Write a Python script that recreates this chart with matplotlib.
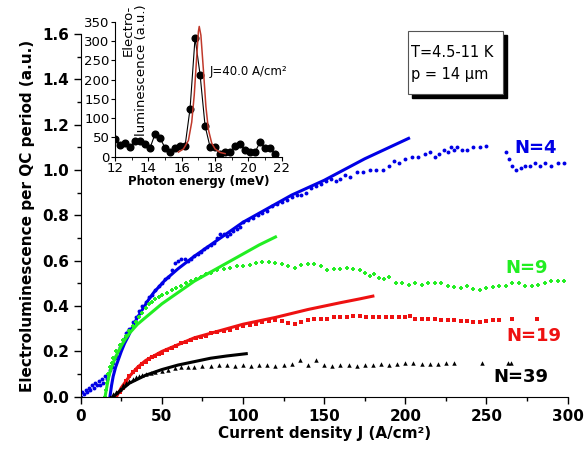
import matplotlib
matplotlib.use("Agg")
import matplotlib.pyplot as plt
from matplotlib.patches import Rectangle
from matplotlib.ticker import MultipleLocator, FormatStrFormatter

plt.rcParams['font.family'] = ['DejaVu Sans']

# ---- main panel data: current density J (A/cm2) vs EL per period ----
n4_j = [0, 1, 2, 3, 4, 5, 6, 7, 8, 9, 10, 11, 12, 13, 14, 15, 16,
        17, 18, 19, 20, 21, 22, 23, 24, 25, 26, 27, 28, 29, 30, 32, 34, 36, 38, 40,
        42, 44, 46, 48, 50, 52, 54, 56, 58, 60, 62, 64, 66, 68, 70, 72, 74, 76, 78,
        80, 82, 84, 86, 88, 90, 92, 94, 96, 98, 100, 103, 106, 109, 112, 115, 118,
        121, 124, 127, 130, 133, 136, 139, 142, 145, 148, 151, 154, 157, 160, 163,
        166, 170, 174, 178, 182, 186, 190, 193, 196, 200, 204, 208, 212, 215, 218,
        221, 224, 226, 228, 230, 232, 235, 238, 242, 246, 250, 262, 264, 266, 268,
        271, 274, 277, 280, 283, 286, 290, 294, 298]
n4_el = [0.0, 0.02, 0.01, 0.03, 0.02, 0.04, 0.03, 0.05, 0.04, 0.06, 0.05, 0.07, 0.05, 0.08, 0.06, 0.09, 0.08,
         0.1, 0.12, 0.13, 0.15, 0.17, 0.18, 0.2, 0.22, 0.23, 0.25, 0.26, 0.28, 0.29, 0.3, 0.33, 0.35, 0.38, 0.4, 0.42,
         0.44, 0.45, 0.47, 0.49, 0.5, 0.52, 0.53, 0.56, 0.59, 0.6, 0.61, 0.61, 0.6, 0.61, 0.62, 0.63, 0.64, 0.65, 0.66,
         0.67, 0.68, 0.7, 0.72, 0.72, 0.71, 0.72, 0.73, 0.74, 0.75, 0.77, 0.78, 0.79, 0.8, 0.81, 0.82, 0.84,
         0.85, 0.86, 0.87, 0.88, 0.89, 0.89, 0.9, 0.92, 0.93, 0.94, 0.95, 0.96, 0.95, 0.96, 0.98,
         0.97, 0.99, 0.99, 1.0, 1.0, 1.0, 1.02, 1.04, 1.03, 1.05, 1.06, 1.06, 1.07, 1.08, 1.06,
         1.07, 1.09, 1.08, 1.1, 1.09, 1.1, 1.09, 1.09, 1.1, 1.1, 1.105, 1.08, 1.05, 1.02, 1.0,
         1.01, 1.02, 1.02, 1.03, 1.02, 1.03, 1.02, 1.03, 1.03]
n4_fit_j = [18, 19, 20, 21.5, 23, 25, 27, 29.5, 32, 35, 38, 41.5, 45, 52, 60, 70, 80, 90, 100,
            115, 130, 150, 175, 202]
n4_fit = [0.0, 0.05, 0.09, 0.13, 0.16, 0.2, 0.235, 0.27, 0.31, 0.35, 0.385, 0.425, 0.46, 0.515,
          0.565, 0.62, 0.67, 0.72, 0.77, 0.83, 0.89, 0.955, 1.05, 1.14]

n9_j = [15, 15.5, 16, 17, 18, 19, 20, 22, 24, 26, 28, 30, 32, 34, 36, 38, 40, 42, 44, 46,
        48, 50, 53, 56, 59, 62, 65, 68, 71, 74, 77, 80, 84, 88, 92, 96, 100, 104, 108,
        112, 116, 120, 124, 128, 132, 136, 140, 144, 148, 152, 156, 160, 164, 168, 172,
        175, 178, 181, 184, 187, 190, 194, 198, 202, 206, 210, 214, 218, 222, 226, 230,
        234, 238, 242, 246, 250, 254, 258, 262, 266, 270, 274, 278, 282, 286, 290, 294, 298]
n9_el = [0.0, 0.03, 0.06, 0.1, 0.13, 0.15, 0.17, 0.2, 0.23, 0.25, 0.27, 0.29, 0.31, 0.33, 0.35, 0.37, 0.39, 0.41, 0.42, 0.43,
         0.44, 0.45, 0.46, 0.47, 0.48, 0.49, 0.5, 0.51, 0.52, 0.53, 0.54, 0.545, 0.56, 0.565, 0.57, 0.575, 0.575, 0.58, 0.59,
         0.595, 0.595, 0.59, 0.585, 0.575, 0.57, 0.58, 0.585, 0.585, 0.575, 0.56, 0.565, 0.565, 0.57, 0.565, 0.56,
         0.545, 0.535, 0.54, 0.525, 0.52, 0.53, 0.5, 0.5, 0.495, 0.5, 0.495, 0.5, 0.5, 0.5, 0.49, 0.485,
         0.48, 0.49, 0.475, 0.47, 0.48, 0.485, 0.49, 0.49, 0.5, 0.5, 0.49, 0.49, 0.495, 0.5, 0.51, 0.51, 0.51]
n9_fit_j = [15, 16, 17, 18.5, 20, 22.5, 25, 27.5, 30, 35, 40, 50, 60, 70, 80, 90, 100, 110, 120]
n9_fit = [0.0, 0.04, 0.08, 0.12, 0.15, 0.19, 0.225, 0.255, 0.28, 0.32, 0.35, 0.41, 0.46, 0.51,
          0.55, 0.59, 0.63, 0.67, 0.705]

n19_j = [22, 24, 26, 28, 30, 32, 34, 36, 38, 40, 42, 44, 46, 48, 50, 53, 56, 59, 62, 65,
         68, 71, 74, 77, 80, 84, 88, 92, 96, 100, 104, 108, 112, 116, 120, 124, 128, 132,
         136, 140, 144, 148, 152, 156, 160, 164, 168, 172, 176, 180, 184, 188, 192, 196,
         200, 203, 206, 210, 214, 218, 222, 226, 230, 234, 238, 242, 246, 250, 254, 258,
         266, 281]
n19_el = [0.0, 0.02, 0.04, 0.07, 0.09, 0.11, 0.12, 0.13, 0.145, 0.155, 0.165, 0.175, 0.18, 0.19, 0.195, 0.205, 0.215, 0.225, 0.235, 0.24,
          0.25, 0.26, 0.265, 0.27, 0.28, 0.285, 0.29, 0.295, 0.305, 0.31, 0.315, 0.32, 0.33, 0.335, 0.34, 0.335, 0.325, 0.32,
          0.33, 0.34, 0.345, 0.345, 0.345, 0.35, 0.35, 0.35, 0.355, 0.355, 0.35, 0.35, 0.35, 0.35, 0.35, 0.35,
          0.35, 0.355, 0.345, 0.345, 0.345, 0.345, 0.34, 0.34, 0.34, 0.335, 0.335, 0.33, 0.33, 0.335, 0.34, 0.34,
          0.345, 0.345]
n19_fit_j = [22, 25, 30, 35, 40, 50, 60, 70, 80, 90, 100, 120, 140, 160, 172, 180]
n19_fit = [0.0, 0.04, 0.09, 0.13, 0.16, 0.2, 0.23, 0.26, 0.28, 0.3, 0.32, 0.35, 0.385, 0.415, 0.432, 0.444]

n39_j = [18, 20, 22, 24, 26, 28, 30, 32, 34, 36, 38, 40, 43, 46, 50, 54, 58, 62, 66, 70,
         75, 80, 85, 90, 95, 100, 105, 110, 115, 120, 125, 130, 135, 140, 145, 150, 155,
         160, 165, 170, 175, 180, 185, 190, 195, 200, 205, 210, 215, 220, 225, 230, 247, 263, 265]
n39_el = [0.0, 0.01, 0.02, 0.035, 0.05, 0.06, 0.07, 0.08, 0.085, 0.09, 0.095, 0.1, 0.105, 0.11, 0.115, 0.12, 0.125, 0.13, 0.13, 0.13,
          0.135, 0.135, 0.14, 0.14, 0.135, 0.14, 0.135, 0.14, 0.14, 0.135, 0.14, 0.145, 0.16, 0.14, 0.16, 0.14, 0.135,
          0.14, 0.14, 0.135, 0.14, 0.14, 0.145, 0.14, 0.145, 0.15, 0.15, 0.145, 0.145, 0.145, 0.15, 0.15, 0.15, 0.15, 0.15]
n39_fit_j = [20, 25, 30, 40, 50, 60, 70, 80, 90, 102]
n39_fit = [0.0, 0.03, 0.06, 0.095, 0.12, 0.14, 0.155, 0.17, 0.18, 0.19]

# ---- inset data: spectrum at J = 40 A/cm2 ----
spec_e = [12.0, 12.3, 12.6, 12.9, 13.2, 13.5, 13.8, 14.1, 14.4, 14.7, 15.0, 15.3, 15.6, 15.9,
          16.2, 16.5, 16.8, 17.1, 17.4, 17.7, 18.0, 18.3, 18.6, 18.9, 19.2, 19.5, 19.8,
          20.1, 20.4, 20.7, 21.0, 21.3, 21.6]
spec_el = [47, 30, 36, 25, 41, 42, 33, 23, 59, 48, 23, 12, 23, 29, 28, 125, 309, 213, 80,
           25, 25, 6, 12, 12, 29, 32, 18, 12, 12, 38, 23, 23, 6]
peak_e = [15.8, 16.1, 16.4, 16.6, 16.75, 16.9, 17.0, 17.05, 17.15, 17.3, 17.45, 17.6, 17.8, 18.0, 18.3, 18.6]
peak_el = [12, 20, 42, 90, 160, 260, 325, 338, 315, 225, 130, 70, 35, 20, 11, 8]

BLUE, GREEN, RED = '#0000e6', '#22ee22', '#ee1111'

fig = plt.figure(figsize=(5.87, 4.55), dpi=100)
ax = fig.add_axes([0.1375, 0.128, 0.8295, 0.797])

ax.plot(n4_j, n4_el, 'o', color=BLUE, ms=2.8, mew=0)
ax.plot(n4_fit_j, n4_fit, '-', color=BLUE, lw=2.2)
ax.plot(n9_j, n9_el, '+', color=GREEN, ms=3.5, mew=1.4)
ax.plot(n9_fit_j, n9_fit, '-', color=GREEN, lw=2.2)
ax.plot(n19_j, n19_el, 's', color=RED, ms=2.6, mew=0)
ax.plot(n19_fit_j, n19_fit, '-', color=RED, lw=2.2)
ax.plot(n39_j, n39_el, '^', color='black', ms=3.2, mew=0)
ax.plot(n39_fit_j, n39_fit, '-', color='black', lw=2.2)

ax.set_xlim(0, 300)
ax.set_ylim(0, 1.6)
ax.xaxis.set_major_locator(MultipleLocator(50))
ax.xaxis.set_minor_locator(MultipleLocator(25))
ax.yaxis.set_major_locator(MultipleLocator(0.2))
ax.yaxis.set_minor_locator(MultipleLocator(0.1))
ax.yaxis.set_major_formatter(FormatStrFormatter('%.1f'))
for s in ('top', 'right'):
    ax.spines[s].set_visible(False)
ax.tick_params(which='major', length=5, width=1, labelsize=11)
ax.tick_params(which='minor', length=3, width=1)
for lbl in ax.get_xticklabels() + ax.get_yticklabels():
    lbl.set_fontweight('bold')
ax.set_xlabel('Current density J (A/cm²)', fontsize=11, fontweight='bold', labelpad=2)
ax.set_ylabel('Electroluminescence per QC period (a.u.)', fontsize=11, fontweight='bold', labelpad=5)

ax.text(280, 1.096, 'N=4', color=BLUE, fontsize=13, fontweight='bold', ha='center', va='center')
ax.text(275, 0.566, 'N=9', color=GREEN, fontsize=13, fontweight='bold', ha='center', va='center')
ax.text(279, 0.27, 'N=19', color=RED, fontsize=13, fontweight='bold', ha='center', va='center')
ax.text(271, 0.088, 'N=39', color='black', fontsize=13, fontweight='bold', ha='center', va='center')

# text box with drop shadow
fig.patches.append(Rectangle((0.702, 0.784), 0.162, 0.139, transform=fig.transFigure,
                             facecolor='black', edgecolor='black', zorder=5))
fig.patches.append(Rectangle((0.695, 0.793), 0.162, 0.139, transform=fig.transFigure,
                             facecolor='white', edgecolor='#555555', lw=0.8, zorder=6))
fig.text(0.700, 0.884, 'T=4.5-11 K', fontsize=10.5, va='center', ha='left', zorder=7)
fig.text(0.700, 0.836, 'p = 14 μm', fontsize=10.5, va='center', ha='left', zorder=7)

# inset spectrum
axi = fig.add_axes([0.196, 0.6556, 0.284, 0.2964])
axi.plot(spec_e, spec_el, '-', color='black', lw=0.8)
axi.plot(spec_e, spec_el, 'o', color='black', ms=4.8)
axi.plot(peak_e, peak_el, '-', color='#c0392b', lw=1.1)
axi.set_xlim(12, 22)
axi.set_ylim(0, 350)
axi.xaxis.set_major_locator(MultipleLocator(2))
axi.xaxis.set_minor_locator(MultipleLocator(1))
axi.yaxis.set_major_locator(MultipleLocator(50))
axi.patch.set_alpha(0)
for s in ('top', 'right'):
    axi.spines[s].set_visible(False)
axi.tick_params(which='major', length=3, labelsize=9.5, pad=1)
axi.tick_params(which='minor', length=2)
axi.set_xlabel('Photon energy (meV)', fontsize=8.5, fontweight='bold', labelpad=0)
axi.text(0.04, 1.13, 'Electro-\nluminescence (a.u.)', transform=axi.transAxes, rotation=90,
         multialignment='right', ha='left', va='top', fontsize=9.5, linespacing=1.0)
axi.text(17.65, 222, 'J=40.0 A/cm²', fontsize=8.5, ha='left', va='center')

fig.savefig('out.png', dpi=100)
